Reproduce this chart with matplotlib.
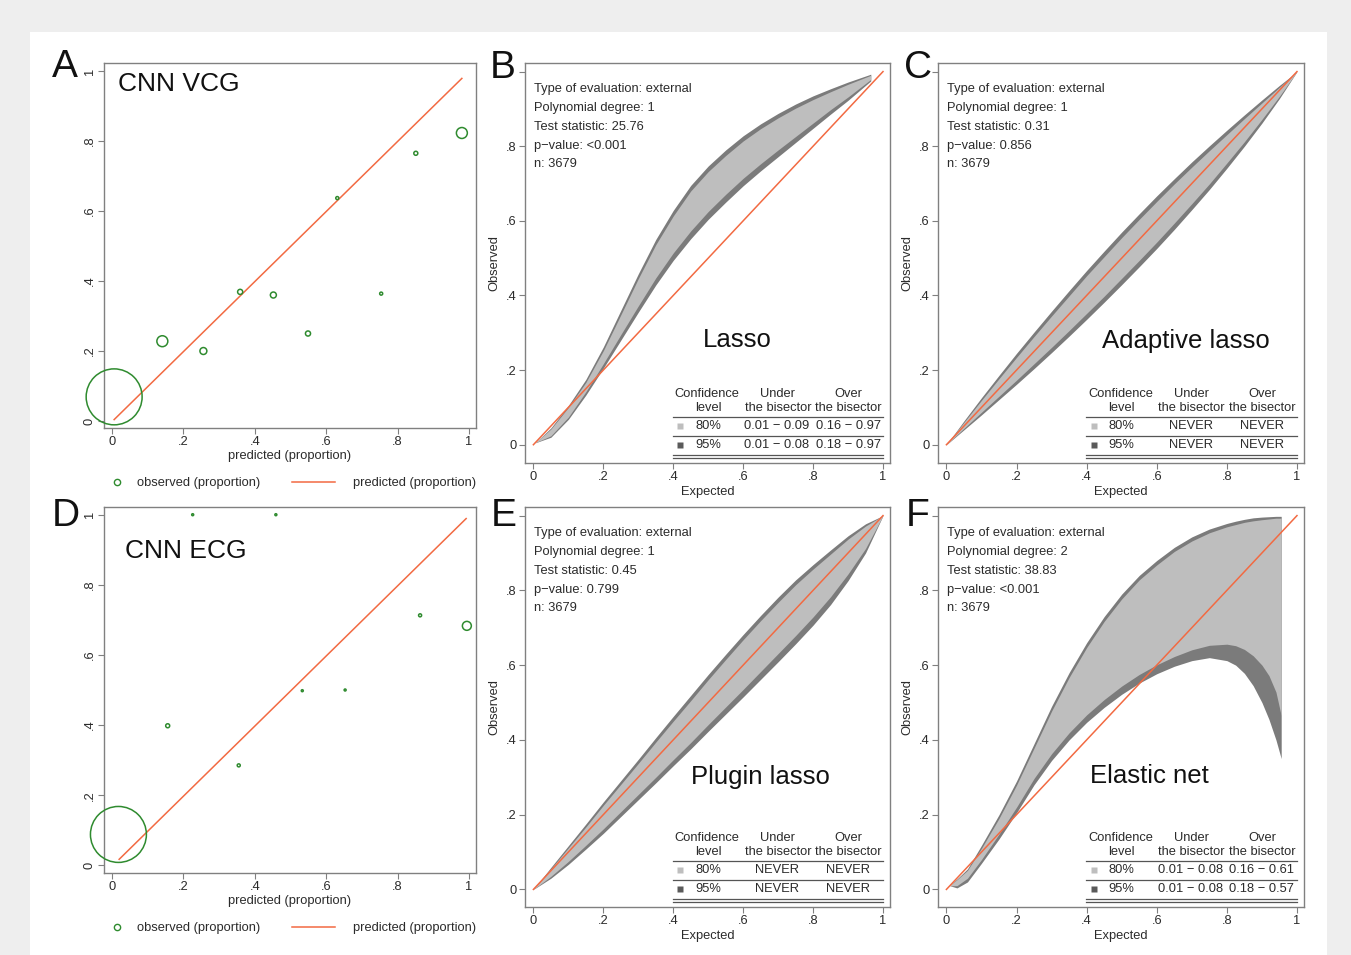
import numpy as np, matplotlib
matplotlib.use('Agg')
import matplotlib.pyplot as plt
from matplotlib.lines import Line2D
from matplotlib.patches import Rectangle

plt.rcParams['font.family'] = ['Liberation Sans', 'DejaVu Sans']

GREEN, RED = '#2f8b2f', '#f26a42'
DARK, LIGHT = '#7b7b7b', '#bebebe'
TXT, AX = '#2b2b2b', '#808080'
FS = 9.3

ticks = [0, .2, .4, .6, .8, 1]
tick_lbl = ['0', '.2', '.4', '.6', '.8', '1']
bisector = [0, 1]

# --- panel A: CNN VCG
a_x = [0.006, 0.141, 0.256, 0.359, 0.452, 0.549, 0.631, 0.754, 0.851, 0.980]
a_y = [0.069, 0.228, 0.200, 0.369, 0.360, 0.250, 0.637, 0.364, 0.765, 0.823]
a_w = [784, 30, 12, 6.5, 9, 6.5, 2.3, 2.3, 4, 30]
a_line_x = [0.006, 0.980]
a_line_y = [0.004, 0.979]

# --- panel D: CNN ECG
d_x = [0.018, 0.226, 0.459, 0.156, 0.355, 0.533, 0.653, 0.863, 0.994]
d_y = [0.088, 1.000, 1.000, 0.398, 0.285, 0.498, 0.500, 0.713, 0.683]
d_w = [784, 1, 1, 4, 2.3, 1, 1, 2.3, 20]
d_line_x = [0.020, 0.992]
d_line_y = [0.017, 0.989]

# --- panel B: Lasso
b_x = [0.005, 0.05, 0.1, 0.15, 0.2, 0.25, 0.3, 0.35, 0.4, 0.45, 0.5, 0.55, 0.6,
       0.65, 0.7, 0.75, 0.8, 0.85, 0.9, 0.965]
b_up95 = [0.005, 0.045, 0.105, 0.175, 0.262, 0.36, 0.458, 0.55, 0.628, 0.695, 0.747,
          0.79, 0.828, 0.86, 0.888, 0.913, 0.935, 0.954, 0.972, 0.993]
b_up80 = [0.005, 0.042, 0.100, 0.167, 0.252, 0.348, 0.445, 0.536, 0.613, 0.68, 0.732,
          0.775, 0.814, 0.847, 0.876, 0.902, 0.925, 0.946, 0.966, 0.99]
b_lo80 = [0.005, 0.024, 0.074, 0.142, 0.217, 0.295, 0.372, 0.447, 0.514, 0.573, 0.625,
          0.671, 0.714, 0.753, 0.79, 0.826, 0.862, 0.898, 0.932, 0.979]
b_lo95 = [0.005, 0.02, 0.068, 0.133, 0.205, 0.28, 0.355, 0.428, 0.494, 0.552, 0.604,
          0.65, 0.694, 0.734, 0.772, 0.81, 0.848, 0.886, 0.923, 0.975]

# --- panels C and E share the x grid
ce_x = [0, .05, .1, .15, .2, .25, .3, .35, .4, .45, .5, .55, .6, .65, .7, .75, .8,
        .85, .9, .95, 1]
c_up95 = [0, 0.064, 0.126, 0.186, 0.245, 0.302, 0.358, 0.413, 0.467, 0.519, 0.57,
          0.619, 0.667, 0.713, 0.758, 0.801, 0.843, 0.884, 0.924, 0.963, 1.0]
c_up80 = [0, 0.06, 0.119, 0.177, 0.234, 0.29, 0.345, 0.399, 0.453, 0.504, 0.555,
          0.604, 0.652, 0.699, 0.744, 0.788, 0.831, 0.874, 0.916, 0.958, 1.0]
c_lo80 = [0, 0.044, 0.087, 0.13, 0.173, 0.217, 0.261, 0.306, 0.352, 0.398, 0.446,
          0.494, 0.543, 0.594, 0.646, 0.699, 0.755, 0.812, 0.872, 0.934, 1.0]
c_lo95 = [0, 0.04, 0.08, 0.121, 0.162, 0.204, 0.247, 0.291, 0.336, 0.382, 0.429,
          0.477, 0.526, 0.577, 0.63, 0.684, 0.741, 0.8, 0.862, 0.928, 1.0]

e_up95 = [0, 0.059, 0.117, 0.175, 0.234, 0.291, 0.348, 0.406, 0.463, 0.519, 0.575,
          0.629, 0.682, 0.733, 0.782, 0.828, 0.869, 0.908, 0.946, 0.978, 1.0]
e_up80 = [0, 0.055, 0.111, 0.167, 0.225, 0.281, 0.337, 0.394, 0.45, 0.505, 0.561,
          0.615, 0.668, 0.719, 0.768, 0.815, 0.857, 0.897, 0.937, 0.972, 1.0]
e_lo80 = [0, 0.035, 0.075, 0.118, 0.162, 0.208, 0.254, 0.3, 0.347, 0.393, 0.441,
          0.488, 0.535, 0.583, 0.631, 0.679, 0.729, 0.783, 0.844, 0.912, 1.0]
e_lo95 = [0, 0.03, 0.067, 0.108, 0.15, 0.195, 0.24, 0.285, 0.331, 0.376, 0.423,
          0.469, 0.515, 0.562, 0.609, 0.657, 0.707, 0.762, 0.826, 0.9, 1.0]

# --- panel F: Elastic net
f_x = [0.01, 0.03, 0.06, 0.1, 0.15, 0.2, 0.25, 0.3, 0.35, 0.4, 0.45, 0.5, 0.55, 0.6,
       0.65, 0.7, 0.75, 0.8, 0.825, 0.85, 0.875, 0.9, 0.92, 0.94, 0.955]
f_up95 = [0.012, 0.028, 0.055, 0.118, 0.2, 0.29, 0.39, 0.49, 0.58, 0.66, 0.73, 0.79,
          0.84, 0.88, 0.915, 0.943, 0.964, 0.979, 0.985, 0.99, 0.994, 0.996, 0.997,
          0.998, 0.998]
f_up80 = [0.012, 0.026, 0.051, 0.11, 0.19, 0.279, 0.378, 0.477, 0.567, 0.647, 0.717,
          0.777, 0.828, 0.868, 0.904, 0.932, 0.954, 0.97, 0.976, 0.982, 0.986, 0.989,
          0.991, 0.993, 0.993]
f_lo80 = [0.01, 0.01, 0.03, 0.08, 0.148, 0.22, 0.297, 0.363, 0.419, 0.467, 0.508, 0.544,
          0.575, 0.601, 0.623, 0.641, 0.653, 0.656, 0.652, 0.642, 0.625, 0.6, 0.572,
          0.528, 0.465]
f_lo95 = [0.01, 0.004, 0.02, 0.07, 0.135, 0.205, 0.28, 0.345, 0.40, 0.447, 0.487, 0.522,
          0.552, 0.577, 0.597, 0.612, 0.62, 0.612, 0.6, 0.578, 0.545, 0.5, 0.455, 0.4,
          0.35]

info_b = ['Type of evaluation: external', 'Polynomial degree: 1', 'Test statistic: 25.76',
          'p\u2212value: <0.001', 'n: 3679']
info_c = ['Type of evaluation: external', 'Polynomial degree: 1', 'Test statistic: 0.31',
          'p\u2212value: 0.856', 'n: 3679']
info_e = ['Type of evaluation: external', 'Polynomial degree: 1', 'Test statistic: 0.45',
          'p\u2212value: 0.799', 'n: 3679']
info_f = ['Type of evaluation: external', 'Polynomial degree: 2', 'Test statistic: 38.83',
          'p\u2212value: <0.001', 'n: 3679']
rows_b = [['80%', '0.01 \u2212 0.09', '0.16 \u2212 0.97'], ['95%', '0.01 \u2212 0.08', '0.18 \u2212 0.97']]
rows_c = [['80%', 'NEVER', 'NEVER'], ['95%', 'NEVER', 'NEVER']]
rows_e = rows_c
rows_f = [['80%', '0.01 \u2212 0.08', '0.16 \u2212 0.61'], ['95%', '0.01 \u2212 0.08', '0.18 \u2212 0.57']]

W, H = 1351, 955
fig = plt.figure(figsize=(W / 100, H / 100), dpi=100, facecolor='#eeeeee')
fig.patches.append(Rectangle((30 / W, 0), 1297 / W, (H - 32) / H, transform=fig.transFigure,
                             facecolor='white', edgecolor='none', zorder=-10))


def px_axes(l, t, r, b):
    ax = fig.add_axes([l / W, 1 - b / H, (r - l) / W, (b - t) / H])
    ax.set_facecolor('none')
    return ax


def style(ax, xlim, ylim):
    ax.set_xlim(*xlim); ax.set_ylim(*ylim)
    for s in ax.spines.values():
        s.set_color(AX); s.set_linewidth(1.0)
    ax.tick_params(direction='out', length=4, width=0.8, color=AX, labelsize=FS,
                   labelcolor=TXT, pad=2)
    ax.set_xticks(ticks, tick_lbl)


def calib_panel(ax, xs, ys, w, lx, ly, name, ylim):
    style(ax, (-0.0224, 1.0196), ylim)
    ax.set_yticks(ticks, tick_lbl)
    ax.tick_params(axis='y', labelrotation=90)
    for t in ax.get_yticklabels():
        t.set_va('center')
    ax.plot(lx, ly, color=RED, lw=1.1, zorder=2)
    ax.scatter(xs, ys, s=np.array(w) * 2.07, facecolors='none', edgecolors=GREEN,
               linewidths=1.1, clip_on=False, zorder=3)
    ax.set_xlabel('predicted (proportion)', fontsize=FS, color=TXT, labelpad=1)
    ax.text(name[1], name[2], name[0], transform=ax.transAxes, fontsize=19,
            color='#111', ha='left', va='center')
    l1 = ax.legend(handles=[Line2D([], [], ls='none', marker='o', mfc='none', mec=GREEN,
                                   ms=4.5, mew=1)],
                   labels=['observed (proportion)'], loc='center left',
                   bbox_to_anchor=(0.0175, -0.151), frameon=False, handlelength=1.0,
                   handletextpad=1.05, borderpad=0, borderaxespad=0, fontsize=FS,
                   labelcolor=TXT)
    ax.add_artist(l1)
    ax.legend(handles=[Line2D([], [], color=RED, lw=1.1)], labels=['predicted (proportion)'],
              loc='center left', bbox_to_anchor=(0.505, -0.151), frameon=False,
              handlelength=3.33, handletextpad=1.4, borderpad=0, borderaxespad=0,
              fontsize=FS, labelcolor=TXT)


def belt_panel(ax, x, lo95, up95, lo80, up80, info, rows, name, nxy, ylim):
    style(ax, (-0.024, 1.02), ylim)
    ax.set_yticks(ticks, tick_lbl[:-1] + [''])
    ax.fill_between(x, lo95, up95, color=DARK, lw=0, zorder=1)
    ax.fill_between(x, lo80, up80, color=LIGHT, lw=0, zorder=1.5)
    ax.plot(bisector, bisector, color=RED, lw=1.1, zorder=2)
    ax.set_xlabel('Expected', fontsize=FS, color=TXT, labelpad=2)
    ax.set_ylabel('Observed', fontsize=FS, color=TXT, labelpad=4)
    for i, s in enumerate(info):
        ax.text(0.0235, 0.934 - i * 0.0469, s, transform=ax.transAxes, fontsize=FS,
                color=TXT, ha='left', va='center')
    ax.text(nxy[0], nxy[1], name, transform=ax.transAxes, fontsize=18.5, color='#111',
            ha='center', va='center')
    tr = ax.transAxes
    kw = dict(transform=tr, fontsize=FS, color=TXT, va='center')
    ax.text(0.499, 0.172, 'Confidence', ha='center', **kw)
    ax.text(0.502, 0.137, 'level', ha='center', **kw)
    ax.text(0.693, 0.172, 'Under', ha='center', **kw)
    ax.text(0.693, 0.137, 'the bisector', ha='center', **kw)
    ax.text(0.885, 0.172, 'Over', ha='center', **kw)
    ax.text(0.885, 0.137, 'the bisector', ha='center', **kw)
    for y in [0.1155, 0.068, 0.0205, 0.013]:
        ax.add_line(Line2D([0.405, 0.981], [y, y], transform=tr, color='#555', lw=0.9))
    for (lvl, under, over), y, c in zip(rows, [0.092, 0.044], [LIGHT, '#5a5a5a']):
        ax.add_line(Line2D([0.425], [y], transform=tr, ls='none', marker='s', ms=5,
                           mfc=c, mec='none'))
        ax.text(0.466, y, lvl, ha='left', **kw)
        ax.text(0.69, y, under, ha='center', **kw)
        ax.text(0.885, y, over, ha='center', **kw)


axA = px_axes(104, 63, 476, 428)
calib_panel(axA, a_x, a_y, a_w, a_line_x, a_line_y, ('CNN VCG', 0.038, 0.942), (-0.02, 1.023))
axD = px_axes(104, 507, 476, 873)
calib_panel(axD, d_x, d_y, d_w, d_line_x, d_line_y, ('CNN ECG', 0.056, 0.881), (-0.022, 1.022))

axB = px_axes(525, 63, 890, 463)
belt_panel(axB, b_x, b_lo95, b_up95, b_lo80, b_up80, info_b, rows_b, 'Lasso', (0.581, 0.307), (-0.049, 1.023))
axC = px_axes(938, 63, 1304, 463)
belt_panel(axC, ce_x, c_lo95, c_up95, c_lo80, c_up80, info_c, rows_c, 'Adaptive lasso', (0.678, 0.304), (-0.049, 1.023))
axE = px_axes(525, 507, 890, 907)
belt_panel(axE, ce_x, e_lo95, e_up95, e_lo80, e_up80, info_e, rows_e, 'Plugin lasso', (0.644, 0.325), (-0.047, 1.023))
axF = px_axes(938, 507, 1304, 907)
belt_panel(axF, f_x, f_lo95, f_up95, f_lo80, f_up80, info_f, rows_f, 'Elastic net', (0.577, 0.328), (-0.047, 1.023))

for letter, (x, y) in zip('ABCDEF', [(65, 67), (503, 68), (918, 68), (66, 516), (504, 516), (918, 516)]):
    fig.text(x / W, 1 - y / H, letter, fontsize=28, color='#111', ha='center', va='center')

fig.savefig('out.png', dpi=100, facecolor=fig.get_facecolor())
